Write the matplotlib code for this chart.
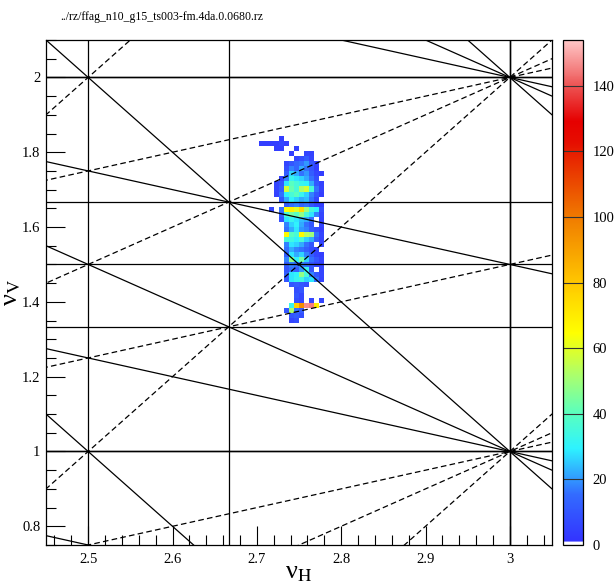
import numpy as np
import matplotlib
matplotlib.use("Agg")
import matplotlib.pyplot as plt
from matplotlib.colors import LinearSegmentedColormap
from matplotlib.ticker import MultipleLocator, FuncFormatter

plt.rcParams['font.family'] = ['Liberation Serif', 'DejaVu Serif']
plt.rcParams['mathtext.fontset'] = 'stix'

# ---- data ----
title_text = "../rz/ffag_n10_g15_ts003-fm.4da.0.0680.rz"
x_label = "ν$_{\\mathrm{H}}$"
y_label = "ν$_{\\mathrm{V}}$"
x_range = (2.45, 3.05)
y_range = (0.75, 2.1)
n_bins = 100
z_max = 154

# histogram rows (y-bin index), first x-bin index, counts
hist_row = [80, 79, 78, 77, 76, 75, 74, 73, 72, 71, 70, 69, 68, 67, 66, 65, 64, 63,
            62, 61, 60, 59, 58, 57, 56, 55, 54, 53, 52, 51, 50, 49, 48, 47, 46, 45, 44]
hist_first_col = [46, 42, 45, 48, 49, 47, 47, 47, 46, 45, 45, 45, 46, 47, 44, 46, 46, 47,
                  47, 47, 47, 47, 47, 47, 47, 47, 47, 47, 47, 48, 49, 49, 49, 48, 47, 48, 48]
hist_counts = [
    [4],
    [4, 4, 4, 4, 6, 4],
    [4, 4, 0, 0, 5],
    [4, 0, 0, 6, 5],
    [6, 8, 12, 6],
    [6, 10, 14, 16, 20, 10, 5],
    [8, 18, 14, 22, 16, 10, 4],
    [12, 26, 22, 16, 20, 12, 6, 4],
    [5, 18, 32, 28, 26, 22, 16, 8],
    [6, 10, 28, 40, 36, 32, 30, 22, 10, 5],
    [6, 12, 58, 42, 36, 52, 58, 36, 16, 5],
    [5, 16, 30, 36, 40, 32, 26, 18, 10, 4],
    [10, 22, 30, 26, 22, 24, 16, 6],
    [12, 16, 18, 14, 16, 10, 6, 4],
    [6, 0, 16, 64, 68, 60, 74, 50, 36, 30, 8],
    [12, 36, 44, 40, 48, 36, 28, 18, 6],
    [8, 28, 32, 28, 24, 22, 16, 0, 5],
    [18, 26, 30, 22, 16, 10, 0, 6],
    [16, 22, 28, 20, 18, 12, 8, 4],
    [66, 40, 36, 66, 54, 50, 16, 6],
    [36, 34, 30, 36, 26, 22, 12, 5],
    [18, 28, 26, 22, 16, 10, 0, 6],
    [16, 22, 18, 16, 12, 8, 5],
    [12, 28, 22, 26, 18, 12, 6, 4],
    [18, 48, 30, 44, 26, 16, 10, 5],
    [12, 18, 16, 18, 16, 10, 6, 5],
    [10, 16, 12, 20, 32, 10, 0, 6],
    [12, 28, 30, 48, 36, 18, 10, 6],
    [10, 28, 32, 34, 26, 28, 16, 5],
    [10, 12, 10, 8],
    [8, 10],
    [10, 6],
    [8, 6, 0, 6, 0, 6],
    [32, 78, 95, 147, 145, 70],
    [10, 52, 16, 12],
    [10, 12, 8],
    [6, 8],
]

# resonance lines m*nuH + n*nuV = p, up to third order
res_m = [1, 0, 2, 0, 1, 1, 3, 0, 2, 1, 2, 1]
res_n = [0, 1, 0, 2, 1, -1, 0, 3, 1, 2, -1, -2]

x_ticks = [2.5, 2.6, 2.7, 2.8, 2.9, 3.0]
y_ticks = [0.8, 1.0, 1.2, 1.4, 1.6, 1.8, 2.0]
cbar_ticks = [0, 20, 40, 60, 80, 100, 120, 140]

# ---- figure ----
W, H = 614, 586
fig = plt.figure(figsize=(W / 100, H / 100), dpi=100)
ax = fig.add_axes([46 / W, 1 - 545 / H, 506 / W, 505 / H])
cax = fig.add_axes([563 / W, 1 - 545 / H, 20 / W, 505 / H])

# colormap similar to ROOT palette
stops = [
    (0.0, (1, 1, 1)),
    (0.005, (1, 1, 1)),
    (0.0065, (0.20, 0.20, 1.0)),
    (0.10, (0.20, 0.42, 1.0)),
    (0.19, (0.18, 0.95, 1.0)),
    (0.26, (0.35, 1.0, 0.75)),
    (0.33, (0.65, 1.0, 0.45)),
    (0.42, (1.0, 1.0, 0.0)),
    (0.52, (1.0, 0.78, 0.0)),
    (0.65, (0.94, 0.48, 0.0)),
    (0.80, (0.90, 0.05, 0.0)),
    (0.84, (0.90, 0.0, 0.0)),
    (0.91, (0.93, 0.33, 0.33)),
    (1.0, (1.0, 0.78, 0.78)),
]
cmap = LinearSegmentedColormap.from_list("rootpal", stops, N=512)

xe = np.linspace(x_range[0], x_range[1], n_bins + 1)
ye = np.linspace(y_range[0], y_range[1], n_bins + 1)
Z = np.zeros((n_bins, n_bins))
for j, i0, vals in zip(hist_row, hist_first_col, hist_counts):
    for k, v in enumerate(vals):
        Z[j, i0 + k] = v
Zm = np.ma.masked_where(Z <= 0, Z)
mesh = ax.pcolormesh(xe, ye, Zm, cmap=cmap, vmin=0, vmax=z_max, zorder=1)

# resonance lines
xx = np.array([x_range[0] - 0.1, x_range[1] + 0.1])
for m, n in zip(res_m, res_n):
    lo = m * x_range[0] + n * (y_range[0] if n > 0 else y_range[1])
    hi = m * x_range[1] + n * (y_range[1] if n > 0 else y_range[0])
    for p in range(int(np.floor(min(lo, hi))) - 1, int(np.ceil(max(lo, hi))) + 2):
        style = dict(color='black', lw=0.9, zorder=3)
        if n == 0:
            ax.axvline(p / m, **style)
        elif m == 0:
            ax.axhline(p / n, **style)
        else:
            yy = (p - m * xx) / n
            if n < 0:
                ax.plot(xx, yy, ls=(0, (4.5, 2.6)), **style)
            else:
                ax.plot(xx, yy, **style)

ax.set_xlim(*x_range)
ax.set_ylim(*y_range)

fmt = FuncFormatter(lambda v, pos: f"{v:g}")
ax.set_xticks(x_ticks)
ax.set_yticks(y_ticks)
ax.xaxis.set_major_formatter(fmt)
ax.yaxis.set_major_formatter(fmt)
ax.xaxis.set_minor_locator(MultipleLocator(0.02))
ax.yaxis.set_minor_locator(MultipleLocator(0.05))
ax.tick_params(which='both', direction='in', top=False, right=False, labelsize=10.5, width=0.8)
ax.tick_params(which='major', length=14)
ax.tick_params(which='minor', length=7)
ax.tick_params(axis='x', pad=6)
ax.tick_params(axis='y', pad=4)
for s in ax.spines.values():
    s.set_linewidth(0.9)

ax.set_xlabel(x_label, fontsize=19)
ax.set_ylabel(y_label, fontsize=19)
ax.xaxis.set_label_coords(0.5, -0.034)
ax.yaxis.set_label_coords(-0.045, 0.5)

fig.text(60 / W, 1 - 17 / H, title_text, fontsize=8.5, ha='left', va='center')

cb = fig.colorbar(mesh, cax=cax)
cb.set_ticks(cbar_ticks)
cb.ax.yaxis.set_major_formatter(fmt)
cb.ax.tick_params(direction='in', length=0, labelsize=10.5, pad=7)
cb.outline.set_linewidth(0.9)
for t in cbar_ticks:
    cax.axhline(t, color='#333333', lw=0.8)

fig.savefig("out.png", dpi=100)
